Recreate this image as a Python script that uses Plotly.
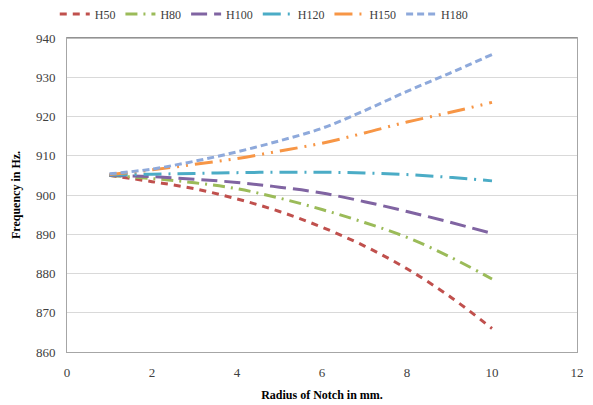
import plotly.graph_objects as go

radius = [1, 2, 3, 4, 5, 6, 7, 8, 9, 10]
series_names = ["H50", "H80", "H100", "H120", "H150", "H180"]
h50 = [905.0, 903.4, 901.6, 899.0, 895.8, 891.8, 887.0, 881.2, 874.2, 866.0]
h80 = [905.0, 904.2, 903.1, 901.6, 899.2, 896.3, 893.0, 889.2, 884.3, 878.6]
h100 = [905.0, 904.7, 904.0, 903.2, 902.0, 900.5, 898.3, 895.8, 893.1, 890.2]
h120 = [905.1, 905.3, 905.5, 905.7, 905.8, 905.8, 905.6, 905.2, 904.5, 903.6]
h150 = [905.2, 906.4, 907.8, 909.3, 911.2, 913.2, 915.8, 918.6, 921.0, 923.6]
h180 = [905.4, 906.6, 908.6, 911.0, 913.8, 917.0, 921.5, 926.4, 931.0, 935.8]

colors = ["#C0504D", "#9BBB59", "#8064A2", "#4BACC6", "#F79646", "#8EA9DB"]
dashes = ["7px,6px", "12px,6px,2px,6px", "16px,7px", "18px,7px,2px,7px",
          "18px,7px,2px,7px,2px,7px", "7px,4px"]

fig = go.Figure()
for name, vals, c, d in zip(series_names, [h50, h80, h100, h120, h150, h180], colors, dashes):
    fig.add_trace(go.Scatter(x=radius, y=vals, name=name, mode="lines",
                             line=dict(color=c, width=3, dash=d, shape="spline")))

fig.update_layout(
    width=593, height=405,
    margin=dict(l=67, r=16, t=38, b=53, autoexpand=False),
    paper_bgcolor="white", plot_bgcolor="white",
    font=dict(family="Liberation Serif", size=13, color="#404040"),
    legend=dict(orientation="h", x=-0.024, xanchor="left", y=1.0764, yanchor="middle",
                font=dict(size=12, color="#404040"),
                itemwidth=30, tracegroupgap=0),
    showlegend=True,
    shapes=[dict(type="line", xref="paper", yref="paper", x0=0, x1=1, y0=1, y1=1,
                 line=dict(color="#7F7F7F", width=1))],
)
fig.update_xaxes(range=[0, 12], dtick=2, tick0=0, showgrid=False, showline=True,
                 mirror=True, linecolor="#A6A6A6", linewidth=1, ticks="", zeroline=False,
                 ticklabelstandoff=8,
                 title=dict(text="<b>Radius of Notch in mm.</b>", standoff=12,
                            font=dict(size=12, color="#000000")))
fig.update_yaxes(range=[860, 940], dtick=10, showgrid=True, gridcolor="#D9D9D9",
                 showline=True, mirror=True, linecolor="#A6A6A6", linewidth=1, ticks="",
                 zeroline=False, ticklabelstandoff=8,
                 title=dict(text="<b>Frequency in Hz.</b>", standoff=12,
                            font=dict(size=12, color="#000000")))
fig.write_html("out.html", config={"displayModeBar": False},
               post_script="document.body.style.margin='0';document.body.style.overflow='hidden';")
